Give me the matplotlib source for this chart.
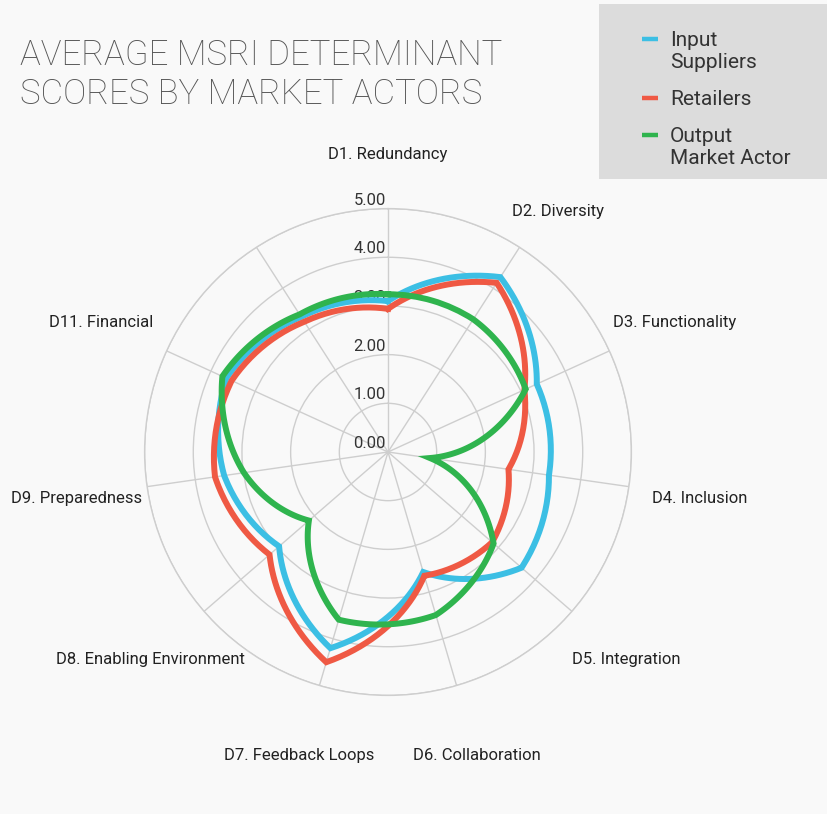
import numpy as np
import matplotlib
matplotlib.use("Agg")
import matplotlib.pyplot as plt
from matplotlib.patches import Rectangle
from matplotlib.lines import Line2D

# determinants, clockwise from the top (the last spoke has no label)
labels = ["D1. Redundancy", "D2. Diversity", "D3. Functionality", "D4. Inclusion",
          "D5. Integration", "D6. Collaboration", "D7. Feedback Loops",
          "D8. Enabling Environment", "D9. Preparedness", "D11. Financial", ""]

input_suppliers = [3.10, 4.27, 3.36, 3.34, 3.63, 2.57, 4.20, 2.96, 3.40, 3.65, 3.30]
retailers = [2.94, 4.13, 3.08, 2.50, 2.83, 2.65, 4.50, 3.22, 3.59, 3.53, 3.18]
output_actor = [3.24, 3.24, 3.11, 0.87, 2.87, 3.49, 3.59, 2.15, 2.99, 3.74, 3.36]

series_names = ["Input\nSuppliers", "Retailers", "Output\nMarket Actor"]
colors = ["#3cbfe4", "#ef5944", "#2fb44e"]

r_ticks = [0, 1, 2, 3, 4, 5]
BG = "#f9f9f9"
FONT = "Roboto"

W, H = 828, 814
fig = plt.figure(figsize=(W / 100, H / 100), dpi=100)
fig.patch.set_facecolor(BG)

# polar axes: centre at (388, 452) px, radius 5 -> 243 px
cx, cy, rad = 388, 452, 243.4
ax = fig.add_axes([(cx - rad) / W, (H - cy - rad) / H, 2 * rad / W, 2 * rad / H],
                  projection="polar")
ax.set_facecolor(BG)
ax.set_theta_zero_location("N")
ax.set_theta_direction(-1)

angles = np.linspace(0, 2 * np.pi, len(labels), endpoint=False)
ax.set_xticks(angles)
ax.set_xticklabels([])
ax.set_yticks(r_ticks[1:])
ax.set_yticklabels([])
ax.set_ylim(0, 5)
ax.tick_params(length=0)
ax.grid(color="#cecece", lw=1.0)
ax.spines["polar"].set_color("#cecece")
ax.spines["polar"].set_linewidth(1.0)

theta = np.append(angles, 2 * np.pi)
for vals, col, z in zip([input_suppliers, retailers, output_actor], colors, [3, 4, 5]):
    line, = ax.plot(theta, vals + vals[:1], color=col, lw=4.3, zorder=z,
                    solid_joinstyle="miter", clip_on=False)
    # straight segments in (theta, r), like the original chart
    line.get_path()._interpolation_steps = 40

# radial tick labels along the top spoke
for r in r_ticks:
    ax.annotate(f"{r:.2f}", xy=(0, r), xytext=(-2, 4), textcoords="offset pixels",
                ha="right", va="baseline", fontsize=12, color="#333333",
                family=FONT, zorder=2)

# category labels
label_r = 6.47
shift = {0: -16, 1: -23}
for i, (a, name) in enumerate(zip(angles, labels)):
    ax.annotate(name, xy=(a, label_r), xytext=(0, shift.get(i, 0) - 6),
                textcoords="offset pixels", ha="center", va="baseline",
                fontsize=12, color="#222222", family=FONT, annotation_clip=False)

# title
fig.text(20 / W, 1 - 65 / H, "AVERAGE MSRI DETERMINANT", fontsize=25,
         color="#555555", family=FONT, fontweight="light", va="baseline")
fig.text(20 / W, 1 - 104 / H, "SCORES BY MARKET ACTORS", fontsize=25,
         color="#555555", family=FONT, fontweight="light", va="baseline")

# legend box
fig.patches.append(Rectangle((599 / W, 1 - 179 / H), 229 / W, 175 / H,
                             transform=fig.transFigure, facecolor="#dcdcdc",
                             edgecolor="none", zorder=0))
first_lines = [39, 97.5, 135]
for name, col, y0 in zip(series_names, colors, first_lines):
    fig.lines.append(Line2D([642 / W, 658 / W], [1 - y0 / H] * 2, color=col, lw=3.2,
                            solid_capstyle="butt", transform=fig.transFigure))
    for k, part in enumerate(name.split("\n")):
        fig.text(670 / W, 1 - (y0 + 7.5 + 22 * k) / H, part, fontsize=15,
                 color="#333333", family=FONT, va="baseline")

fig.savefig("out.png", dpi=100, facecolor=BG)
